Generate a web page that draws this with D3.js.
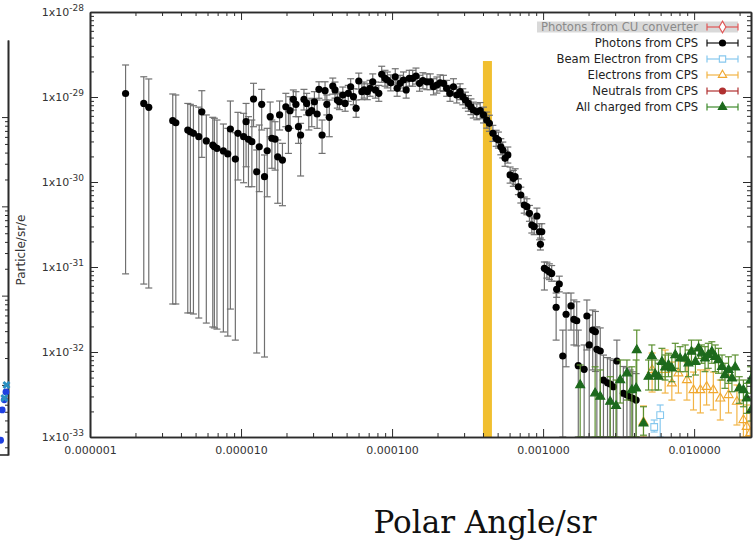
<!DOCTYPE html>
<html>
<head>
<meta charset="utf-8">
<script src="https://cdn.jsdelivr.net/npm/d3@7"></script>
<style>
  body { margin: 0; background: #fff; }
  svg { display: block; }
  text { font-family: "DejaVu Sans", sans-serif; }
</style>
</head>
<body>
<svg id="chart" width="753" height="547"></svg>
<script>
// ---- data: [angle, value, lowErr, highErr] ----
var photonsCU = [];
var neutralsCPS = [];

var photonsCPS = [
  [1.72e-6, 1.10e-29, 8.3e-32, 2.38e-29], [2.27e-6, 8.4e-30, 6.3e-32, 1.73e-29],
  [2.45e-6, 7.55e-30, 5.66e-32, 1.63e-29], [3.53e-6, 5.26e-30, 3.67e-32, 1.085e-29],
  [3.70e-6, 4.98e-30, 3.67e-32, 1.056e-29], [4.44e-6, 4.09e-30, 2.88e-32, 8.4e-30],
  [4.62e-6, 3.9e-30, 2.88e-32, 8.2e-30], [4.84e-6, 3.74e-30, 2.8e-32, 7.9e-30],
  [5.25e-6, 3.41e-30, 2.51e-32, 7.6e-30], [5.50e-6, 6.7e-30, 1.95e-30, 1.186e-29],
  [5.89e-6, 3.04e-30, 2.19e-32, 6.15e-30], [6.50e-6, 2.72e-30, 1.97e-32, 5.77e-30],
  [6.66e-6, 2.6e-30, 1.92e-32, 5.62e-30], [6.93e-6, 2.49e-30, 1.86e-32, 5.36e-30],
  [7.64e-6, 2.32e-30, 1.72e-32, 4.81e-30], [8.17e-6, 2.14e-30, 1.54e-32, 4.28e-30],
  [8.5e-6, 4.2e-30, 3.2e-32, 8.97e-30], [9.17e-6, 1.86e-30, 1.38e-32, 3.8e-30],
  [9.54e-6, 3.74e-30, 1.056e-30, 6.6e-30], [1.04e-5, 3.41e-30, 9.8e-31, 6.43e-30],
  [1.08e-5, 5.12e-30, 1.51e-30, 8.4e-30], [1.12e-5, 3.18e-30, 8.8e-31, 5.87e-30],
  [1.18e-5, 2.98e-30, 8.8e-31, 5.36e-30], [1.21e-5, 9.47e-30, 4.47e-30, 1.45e-29],
  [1.27e-5, 1.32e-30, 9.73e-33, 2.38e-30], [1.32e-5, 2.6e-30, 7.7e-31, 4.68e-30],
  [1.37e-5, 8.2e-30, 4.09e-30, 1.23e-29], [1.43e-5, 1.155e-30, 8.73e-33, 2.08e-30],
  [1.49e-5, 2.33e-30, 6.7e-31, 4.28e-30], [1.56e-5, 5.87e-30, 3.41e-30, 8.73e-30],
  [1.60e-5, 3.27e-30, 1.45e-30, 5.36e-30], [1.68e-5, 3.2e-30, 1.38e-30, 5.12e-30],
  [1.75e-5, 1.98e-30, 5.62e-31, 3.12e-30], [1.80e-5, 6.15e-30, 4.09e-30, 8.97e-30],
  [1.88e-5, 1.81e-30, 5.26e-31, 2.85e-30], [1.98e-5, 7.68e-30, 4.47e-30, 1.105e-29],
  [2.06e-5, 4.28e-30, 2.17e-30, 6.7e-30], [2.11e-5, 6.9e-30, 4.28e-30, 1.008e-29],
  [2.22e-5, 9.4e-30, 7.03e-30, 1.21e-29], [2.31e-5, 8.2e-30, 5.87e-30, 1.155e-29],
  [2.40e-5, 4.47e-30, 2.85e-30, 5.87e-30], [2.48e-5, 3.57e-30, 1.177e-30, 4.9e-30],
  [2.61e-5, 9.4e-30, 7.03e-30, 1.23e-29], [2.72e-5, 8.4e-30, 6.15e-30, 1.105e-29],
  [2.81e-5, 6.53e-30, 4.09e-30, 9.22e-30], [2.94e-5, 6.9e-30, 4.47e-30, 9.66e-30],
  [3.06e-5, 8.79e-30, 6.7e-30, 1.155e-29], [3.19e-5, 6.31e-30, 4.28e-30, 9.22e-30],
  [3.28e-5, 1.23e-29, 9.66e-30, 1.51e-29], [3.44e-5, 3.57e-30, 2.17e-30, 5.36e-30],
  [3.60e-5, 1.186e-29, 9.22e-30, 1.51e-29], [3.70e-5, 8.2e-30, 6.15e-30, 1.056e-29],
  [3.84e-5, 5.77e-30, 3.41e-30, 9.22e-30], [4.05e-5, 1.347e-29, 1.08e-29, 1.67e-29],
  [4.19e-5, 1.21e-29, 9.7e-30, 1.5e-29], [4.34e-5, 9.22e-30, 7.4e-30, 1.14e-29],
  [4.48e-5, 8.79e-30, 7.1e-30, 1.09e-29], [4.72e-5, 1.056e-29, 8.5e-30, 1.31e-29],
  [4.89e-5, 8.4e-30, 6.8e-30, 1.04e-29], [5.13e-5, 1.105e-29, 8.9e-30, 1.37e-29],
  [5.32e-5, 1.32e-29, 1.06e-29, 1.64e-29], [5.55e-5, 1.008e-29, 8.1e-30, 1.25e-29],
  [5.78e-5, 7.37e-30, 5.77e-30, 9.22e-30], [6.02e-5, 1.542e-29, 1.24e-29, 1.91e-29],
  [6.31e-5, 1.155e-29, 9.3e-30, 1.43e-29], [6.53e-5, 1.21e-29, 9.7e-30, 1.5e-29],
  [6.86e-5, 1.155e-29, 9.3e-30, 1.43e-29], [7.15e-5, 1.266e-29, 1.02e-29, 1.57e-29],
  [7.45e-5, 1.51e-29, 1.22e-29, 1.87e-29], [7.76e-5, 1.21e-29, 9.7e-30, 1.5e-29],
  [8.17e-5, 1.105e-29, 8.9e-30, 1.37e-29], [8.54e-5, 1.85e-29, 1.49e-29, 2.3e-29],
  [8.98e-5, 1.66e-29, 1.34e-29, 2.06e-29], [9.3e-5, 1.585e-29, 1.28e-29, 1.97e-29],
  [9.8e-5, 1.47e-29, 1.18e-29, 1.82e-29], [1.05e-4, 1.73e-29, 1.39e-29, 2.15e-29],
  [1.08e-4, 1.266e-29, 1.02e-29, 1.57e-29], [1.13e-4, 1.45e-29, 1.17e-29, 1.8e-29],
  [1.19e-4, 1.585e-29, 1.28e-29, 1.97e-29], [1.24e-4, 1.21e-29, 9.7e-30, 1.5e-29],
  [1.30e-4, 1.66e-29, 1.34e-29, 2.06e-29], [1.37e-4, 1.66e-29, 1.34e-29, 2.06e-29],
  [1.44e-4, 1.766e-29, 1.42e-29, 2.19e-29], [1.52e-4, 1.45e-29, 1.17e-29, 1.8e-29],
  [1.60e-4, 1.555e-29, 1.25e-29, 1.93e-29], [1.70e-4, 1.51e-29, 1.22e-29, 1.87e-29],
  [1.79e-4, 1.51e-29, 1.22e-29, 1.87e-29], [1.88e-4, 1.32e-29, 1.06e-29, 1.64e-29],
  [1.98e-4, 1.384e-29, 1.11e-29, 1.72e-29], [2.08e-4, 1.47e-29, 1.18e-29, 1.82e-29],
  [2.19e-4, 1.45e-29, 1.17e-29, 1.8e-29], [2.30e-4, 1.266e-29, 1.02e-29, 1.57e-29],
  [2.42e-4, 1.105e-29, 8.9e-30, 1.37e-29], [2.55e-4, 1.32e-29, 1.06e-29, 1.64e-29],
  [2.68e-4, 1.056e-29, 8.5e-30, 1.31e-29], [2.82e-4, 1.155e-29, 9.3e-30, 1.43e-29],
  [2.94e-4, 1.008e-29, 8.1e-30, 1.25e-29], [3.06e-4, 9.22e-30, 7.4e-30, 1.14e-29],
  [3.20e-4, 8.4e-30, 6.8e-30, 1.04e-29], [3.33e-4, 7.68e-30, 6.2e-30, 9.5e-30],
  [3.45e-4, 7.03e-30, 5.66e-30, 8.7e-30], [3.64e-4, 6.7e-30, 5.4e-30, 8.3e-30],
  [3.83e-4, 6.9e-30, 5.55e-30, 8.6e-30], [4.03e-4, 6.15e-30, 4.95e-30, 7.6e-30],
  [4.24e-4, 5.36e-30, 4.3e-30, 6.65e-30], [4.41e-4, 4.9e-30, 3.95e-30, 6.1e-30],
  [4.65e-4, 3.74e-30, 3.0e-30, 4.64e-30], [4.89e-4, 3.27e-30, 2.63e-30, 4.06e-30],
  [5.06e-4, 3.12e-30, 2.51e-30, 3.87e-30], [5.25e-4, 2.6e-30, 2.09e-30, 3.23e-30],
  [5.41e-4, 2.38e-30, 1.92e-30, 2.95e-30], [5.60e-4, 1.9e-30, 1.53e-30, 2.36e-30],
  [5.84e-4, 2.08e-30, 1.67e-30, 2.58e-30], [6.05e-4, 1.21e-30, 9.7e-31, 1.5e-30],
  [6.35e-4, 1.105e-30, 8.9e-31, 1.37e-30], [6.53e-4, 1.155e-30, 9.3e-31, 1.43e-30],
  [6.86e-4, 8.79e-31, 7.1e-31, 1.09e-30], [7.12e-4, 7.03e-31, 5.66e-31, 8.7e-31],
  [7.5e-4, 5.36e-31, 4.3e-31, 6.65e-31], [7.81e-4, 5.12e-31, 4.12e-31, 6.35e-31],
  [8.12e-4, 4.28e-31, 3.45e-31, 5.3e-31], [8.42e-4, 3.12e-31, 2.51e-31, 3.87e-31],
  [8.73e-4, 2.98e-31, 2.4e-31, 3.7e-31], [9.1e-4, 3.98e-31, 3.03e-31, 4.93e-31],
  [9.47e-4, 2.6e-31, 2.09e-31, 3.23e-31], [9.8e-4, 2.6e-31, 2.09e-31, 3.23e-31],
  [9.6e-4, 1.85e-31, 1.585e-31, 2.19e-31], [1.02e-3, 9.66e-32, 5.36e-32, 1.145e-31],
  [1.06e-3, 9.22e-32, 7.4e-32, 1.14e-31], [1.10e-3, 8.79e-32, 7.1e-32, 1.09e-31],
  [1.14e-3, 8.4e-32, 6.8e-32, 1.04e-31], [1.23e-3, 5.46e-32, 4.4e-32, 6.8e-32],
  [1.28e-3, 6.31e-32, 5.1e-32, 7.8e-32], [1.22e-3, 3.36e-32, 1.38e-32, 4.94e-32],
  [1.35e-3, 8.97e-33, 1e-33, 1.81e-32], [1.42e-3, 2.78e-32, 6.7e-33, 4.94e-32],
  [1.53e-3, 3.48e-32, 1.81e-32, 4.94e-32], [1.60e-3, 2.42e-32, 1.21e-32, 4.09e-32],
  [1.67e-3, 2.33e-32, 1.18e-32, 3.9e-32], [1.71e-3, 6.9e-33, 1e-33, 1.81e-32],
  [1.87e-3, 6.26e-33, 1e-33, 1.21e-32], [1.95e-3, 2.65e-32, 1.056e-32, 4.09e-32],
  [2.02e-3, 1.21e-32, 1e-33, 2.72e-32], [2.13e-3, 1.81e-32, 6.15e-33, 3.12e-32],
  [2.22e-3, 1.73e-32, 5.9e-33, 3.0e-32], [2.27e-3, 1.076e-32, 1e-33, 1.98e-32],
  [2.39e-3, 1.028e-32, 1e-33, 1.92e-32], [2.51e-3, 4.68e-33, 1e-33, 9.2e-33],
  [2.67e-3, 4.35e-33, 1e-33, 8.6e-33], [2.78e-3, 4.2e-33, 1e-33, 8.3e-33],
  [2.92e-3, 3.9e-33, 1e-33, 7.95e-33], [3.08e-3, 7.84e-33, 1e-33, 1.38e-32],
  [3.40e-3, 3.27e-33, 1e-33, 6.75e-33], [3.59e-3, 3.12e-33, 1e-33, 6.5e-33],
  [3.77e-3, 2.93e-33, 1e-33, 6.15e-33], [3.92e-3, 2.85e-33, 1e-33, 5.85e-33],
  [4.13e-3, 2.72e-33, 1e-33, 5.57e-33]
];

var beamElectronCPS = [
  [5.44e-3, 1.311e-33, 1.145e-33, 1.585e-33], [5.96e-3, 1.81e-33, 1e-33, 2.38e-33]
];

var electronsCPS = [
  [4.62e-3, 1.5e-33, 1e-33, 2.32e-33], [5.27e-3, 6.15e-33, 3.38e-33, 9.73e-33],
  [6.43e-3, 6.15e-33, 3.29e-33, 1.056e-32], [7.12e-3, 4.28e-33, 2.72e-33, 7.62e-33],
  [7.87e-3, 5.62e-33, 3.29e-33, 8.73e-33], [8.96e-3, 4.68e-33, 2.72e-33, 7.62e-33],
  [9.9e-3, 3.57e-33, 2.08e-33, 5.81e-33], [1.1e-2, 3.57e-33, 1.92e-33, 6.15e-33],
  [1.21e-2, 3.9e-33, 2.38e-33, 6.15e-33], [1.34e-2, 3.57e-33, 2.08e-33, 5.81e-33],
  [1.49e-2, 2.85e-33, 1.585e-33, 4.68e-33], [1.69e-2, 3.12e-33, 1.92e-33, 5.36e-33],
  [1.92e-2, 2.6e-33, 1.384e-33, 4.09e-33], [2.12e-2, 1.585e-33, 1e-33, 2.72e-33],
  [2.23e-2, 1.32e-33, 1e-33, 2.38e-33], [2.35e-2, 1.115e-33, 1e-33, 2.08e-33]
];

var chargedCPS = [
  [1.76e-3, 4.09e-33, 1e-33, 7.03e-33], [2.21e-3, 3.27e-33, 1e-33, 6.7e-33],
  [2.39e-3, 2.98e-33, 1e-33, 6.15e-33], [2.78e-3, 2.6e-33, 1e-33, 5.12e-33],
  [3.04e-3, 2.32e-33, 1e-33, 4.68e-33], [3.24e-3, 4.68e-33, 2.51e-33, 8.05e-33],
  [3.59e-3, 5.62e-33, 2.72e-33, 8.05e-33], [3.87e-3, 3.57e-33, 1e-33, 6.7e-33],
  [4.13e-3, 3.74e-33, 1e-33, 8.05e-33], [4.17e-3, 1.056e-32, 3.57e-33, 1.81e-32],
  [4.62e-3, 1.45e-33, 1.05e-33, 2.27e-33], [4.99e-3, 5.12e-33, 3.57e-33, 8.05e-33],
  [5.25e-3, 8.97e-33, 6.15e-33, 1.21e-32], [5.52e-3, 5.46e-33, 3.57e-33, 8.05e-33],
  [5.81e-3, 5.12e-33, 3.57e-33, 7.37e-33], [6.12e-3, 7.68e-33, 5.12e-33, 1.105e-32],
  [6.43e-3, 6.6e-33, 4.68e-33, 9.22e-33], [6.76e-3, 7.03e-33, 5.12e-33, 9.66e-33],
  [7.12e-3, 6.43e-33, 4.47e-33, 9.22e-33], [7.5e-3, 9.22e-33, 6.43e-33, 1.266e-32],
  [8.08e-3, 8.4e-33, 5.87e-33, 1.155e-32], [8.73e-3, 8.4e-33, 5.87e-33, 1.21e-32],
  [9.17e-3, 7.37e-33, 5.12e-33, 1.056e-32], [9.6e-3, 1.008e-32, 7.37e-33, 1.38e-32],
  [1.02e-2, 7.68e-33, 5.36e-33, 1.105e-32], [1.07e-2, 1.105e-32, 8.4e-33, 1.38e-32],
  [1.12e-2, 9.66e-33, 7.37e-33, 1.21e-32], [1.18e-2, 8.4e-33, 5.87e-33, 1.155e-32],
  [1.24e-2, 9.22e-33, 6.43e-33, 1.266e-32], [1.31e-2, 1.008e-32, 7.37e-33, 1.32e-32],
  [1.38e-2, 8.79e-33, 5.87e-33, 1.21e-32], [1.45e-2, 8.05e-33, 5.62e-33, 1.105e-32],
  [1.53e-2, 6.7e-33, 4.68e-33, 9.22e-33], [1.60e-2, 5.36e-33, 3.74e-33, 7.37e-33],
  [1.69e-2, 6.15e-33, 4.28e-33, 8.79e-33], [1.78e-2, 4.9e-33, 3.41e-33, 6.6e-33],
  [1.87e-2, 6.6e-33, 4.68e-33, 9.22e-33], [1.99e-2, 3.74e-33, 2.49e-33, 5.12e-33],
  [2.12e-2, 3.57e-33, 2.27e-33, 4.68e-33], [2.23e-2, 2.85e-33, 1.9e-33, 4.28e-33],
  [2.37e-2, 4.68e-33, 3.27e-33, 6.7e-33], [2.39e-2, 2.08e-33, 1.54e-33, 2.85e-33]
];

// vertical marker (yellow band)
var markerAngle = 4.28e-4;
var markerTop = 2.65e-29;

// axes
var xTickValues = [1e-6, 1e-5, 1e-4, 1e-3, 1e-2];
var xTickLabels = ["0.000001", "0.000010", "0.000100", "0.001000", "0.010000"];
var yTickValues = [1e-28, 1e-29, 1e-30, 1e-31, 1e-32, 1e-33];
var yTickExps = ["-28", "-29", "-30", "-31", "-32", "-33"];

var legendNames = ["Photons from CU converter", "Photons from CPS", "Beam Electron from CPS",
                   "Electrons from CPS", "Neutrals from CPS", "All charged from CPS"];

// neighbouring panel cut at the left edge
var nbrTickValues = [1e-29, 1e-30, 1e-31, 1e-32];
var nbrPos = [0.99, 0.975, 0.955, 0.94];
var nbrCircles = [8.35e-33, 6.8e-33, 5.25e-33, 2.4e-33];
var nbrStars = [[0.995, 1.0e-32], [0.975, 7.15e-33]];

var svg = d3.select("#chart");
var pLeft = 90, pRight = 751, pTop = 12, pBottom = 437;

var x = d3.scaleLog().domain([1e-6, 0.0238]).range([pLeft, pRight]);
var y = d3.scaleLog().domain([1e-33, 1e-28]).range([pBottom, pTop]);

function minorTicks(lo, hi) {
    var out = [];
    for (var e = lo; e < hi; e++) {
        for (var m = 2; m <= 9; m++) out.push(m * Math.pow(10, e));
    }
    return out;
}
var xMinor = minorTicks(-6, -1).filter(function (v) { return v < 0.0238; });
var yMinor = minorTicks(-33, -28);

svg.append("defs").append("clipPath").attr("id", "plotclip")
    .append("rect").attr("x", pLeft).attr("y", pTop)
    .attr("width", pRight - pLeft).attr("height", pBottom - pTop);

// yellow band
svg.append("rect")
    .attr("x", x(markerAngle) - 4.5)
    .attr("y", y(markerTop))
    .attr("width", 9)
    .attr("height", pBottom - y(markerTop))
    .attr("fill", "#f1bf2f");

var plot = svg.append("g").attr("clip-path", "url(#plotclip)");

function drawSeries(data, barColor, capHalf, symbolFn) {
    var g = plot.append("g");
    g.selectAll("line.bar").data(data).enter().append("line")
        .attr("x1", d => x(d[0])).attr("x2", d => x(d[0]))
        .attr("y1", d => y(d[2])).attr("y2", d => y(d[3]))
        .attr("stroke", barColor).attr("stroke-width", 1.2);
    g.selectAll("line.capt").data(data).enter().append("line")
        .attr("x1", d => x(d[0]) - capHalf).attr("x2", d => x(d[0]) + capHalf)
        .attr("y1", d => y(d[3])).attr("y2", d => y(d[3]))
        .attr("stroke", barColor).attr("stroke-width", 1.2);
    g.selectAll("line.capb").data(data).enter().append("line")
        .attr("x1", d => x(d[0]) - capHalf).attr("x2", d => x(d[0]) + capHalf)
        .attr("y1", d => y(d[2])).attr("y2", d => y(d[2]))
        .attr("stroke", barColor).attr("stroke-width", 1.2);
    data.forEach(function (d) {
        symbolFn(g, x(d[0]), y(d[1]));
    });
}

function dot(color) {
    return function (g, cx, cy) {
        g.append("circle").attr("cx", cx).attr("cy", cy).attr("r", 3.6).attr("fill", color);
    };
}
function shape(type, size, stroke, fill) {
    return function (g, cx, cy) {
        g.append("path").attr("d", d3.symbol().type(type).size(size)())
            .attr("transform", "translate(" + cx + "," + cy + ")")
            .attr("fill", fill).attr("stroke", stroke).attr("stroke-width", 1.1);
    };
}

drawSeries(photonsCU, "#e05555", 3.5, shape(d3.symbolDiamond, 40, "#e05555", "none"));
drawSeries(photonsCPS, "#707070", 3.5, dot("#000"));
drawSeries(beamElectronCPS, "#86c8ee", 3.5, shape(d3.symbolSquare, 45, "#86c8ee", "#fff"));
drawSeries(electronsCPS, "#f2b445", 3.5, shape(d3.symbolTriangle, 35, "#f0a830", "none"));
drawSeries(neutralsCPS, "#b03030", 3.5, dot("#b03030"));
drawSeries(chargedCPS, "#5b9030", 3.5, shape(d3.symbolTriangle, 35, "#1d6a1d", "#1d6a1d"));

// ---- axes ----
var axisColor = "#2b2b2b";
function styleAxis(g) {
    g.select(".domain").attr("stroke", axisColor).attr("stroke-width", 1.6);
    g.selectAll(".tick line").attr("stroke", axisColor);
    g.selectAll("text").attr("fill", "#333").attr("font-size", "11px")
        .attr("font-family", "DejaVu Sans, sans-serif");
}

svg.append("g").attr("transform", "translate(0," + pBottom + ")")
    .call(d3.axisBottom(x).tickValues(xMinor).tickSize(-4).tickSizeOuter(0).tickFormat(""))
    .call(styleAxis);
svg.append("g").attr("transform", "translate(0," + pBottom + ")")
    .call(d3.axisBottom(x).tickValues(xTickValues).tickSize(-8).tickSizeOuter(0).tickPadding(9)
        .tickFormat((d, i) => xTickLabels[i]))
    .call(styleAxis);

svg.append("g").attr("transform", "translate(0," + pTop + ")")
    .call(d3.axisTop(x).tickValues(xMinor).tickSize(-4).tickSizeOuter(0).tickFormat(""))
    .call(styleAxis);
svg.append("g").attr("transform", "translate(0," + pTop + ")")
    .call(d3.axisTop(x).tickValues(xTickValues).tickSize(-8).tickSizeOuter(0).tickFormat(""))
    .call(styleAxis);

svg.append("g").attr("transform", "translate(" + pLeft + ",0)")
    .call(d3.axisLeft(y).tickValues(yMinor).tickSize(-4).tickSizeOuter(0).tickFormat(""))
    .call(styleAxis);
var yAxisG = svg.append("g").attr("transform", "translate(" + pLeft + ",0)")
    .call(d3.axisLeft(y).tickValues(yTickValues).tickSize(-8).tickSizeOuter(0).tickPadding(6)
        .tickFormat(() => "1x10"))
    .call(styleAxis);
yAxisG.selectAll(".tick text").each(function (d, i) {
    d3.select(this).append("tspan").attr("dy", "-0.55em").attr("font-size", "9px").text(yTickExps[i]);
});

svg.append("g").attr("transform", "translate(" + pRight + ",0)")
    .call(d3.axisRight(y).tickValues(yMinor).tickSize(-4).tickSizeOuter(0).tickFormat(""))
    .call(styleAxis);
svg.append("g").attr("transform", "translate(" + pRight + ",0)")
    .call(d3.axisRight(y).tickValues(yTickValues).tickSize(-8).tickSizeOuter(0).tickFormat(""))
    .call(styleAxis);

// ---- legend ----
var legendColors = ["#e05555", "#111", "#86c8ee", "#f2b445", "#b03030", "#3d8a2a"];
var legendSymbols = [
    shape(d3.symbolDiamond, 40, "#e05555", "#fff"), dot("#000"),
    shape(d3.symbolSquare, 40, "#86c8ee", "#fff"), shape(d3.symbolTriangle, 30, "#f0a830", "#fff"),
    dot("#b03030"), shape(d3.symbolTriangle, 30, "#1d6a1d", "#1d6a1d")
];
var legendRow = d3.scalePoint().domain(legendNames).range([27, 107]);
var legend = svg.append("g");
legend.append("rect").attr("x", 537).attr("y", legendRow(legendNames[0]) - 5.5)
    .attr("width", 201).attr("height", 11).attr("fill", "#d9d9d9");
legendNames.forEach(function (name, i) {
    var ly = legendRow(name);
    legend.append("text").attr("x", 698).attr("y", ly).attr("dy", "0.36em")
        .attr("text-anchor", "end").attr("font-size", "11.6px")
        .attr("fill", i === 0 ? "#8a8a8a" : "#222").text(name);
    var lg = legend.append("g");
    lg.append("line").attr("x1", 707).attr("x2", 738).attr("y1", ly).attr("y2", ly)
        .attr("stroke", legendColors[i]).attr("stroke-width", 1.2);
    [707, 738].forEach(function (cx) {
        lg.append("line").attr("x1", cx).attr("x2", cx).attr("y1", ly - 3.5).attr("y2", ly + 3.5)
            .attr("stroke", legendColors[i]).attr("stroke-width", 1.2);
    });
    legendSymbols[i](lg, 722.5, ly);
});

// ---- axis titles ----
svg.append("text").attr("transform", "translate(21,250) rotate(-90)")
    .attr("text-anchor", "middle").attr("dy", "0.35em")
    .attr("font-size", "12px").attr("fill", "#333").text("Particle/sr/e");

svg.append("text").attr("x", 485).attr("y", 533).attr("text-anchor", "middle")
    .style("font-family", "'DejaVu Serif', serif")
    .attr("font-size", "31px").attr("fill", "#111").text("Polar Angle/sr");

// ---- neighbouring panel (cut off at the left edge) ----
var nbrY = d3.scaleLog().domain([7.3e-29, 1.64e-33]).range([40, 455]);
var nbrX = d3.scaleLinear().domain([0, 1]).range([-100, 7]);
var nbr = svg.append("g");
nbr.append("g").attr("transform", "translate(8,0)")
    .call(d3.axisRight(nbrY).tickValues(minorTicks(-33, -29).filter(v => v > 1.64e-33)).tickSize(-3).tickSizeOuter(0).tickFormat(""))
    .call(styleAxis);
nbr.append("g").attr("transform", "translate(8,0)")
    .call(d3.axisRight(nbrY).tickValues(nbrTickValues).tickSize(-6).tickSizeOuter(0).tickFormat(""))
    .call(styleAxis);
nbr.append("line").attr("x1", 0).attr("x2", 8).attr("y1", 455).attr("y2", 455)
    .attr("stroke", axisColor).attr("stroke-width", 1.6);
nbr.selectAll("circle").data(nbrCircles).enter().append("circle")
    .attr("cx", (d, i) => nbrX(nbrPos[i])).attr("cy", d => nbrY(d))
    .attr("r", 3.4).attr("fill", "#1f3fe0");
nbr.selectAll("path.star").data(nbrStars).enter().append("path")
    .attr("d", d3.symbol().type(d3.symbolCross).size(40)())
    .attr("transform", d => "translate(" + nbrX(d[0]) + "," + nbrY(d[1]) + ") rotate(45)")
    .attr("fill", "#2a8fc0");
</script>
</body>
</html>
